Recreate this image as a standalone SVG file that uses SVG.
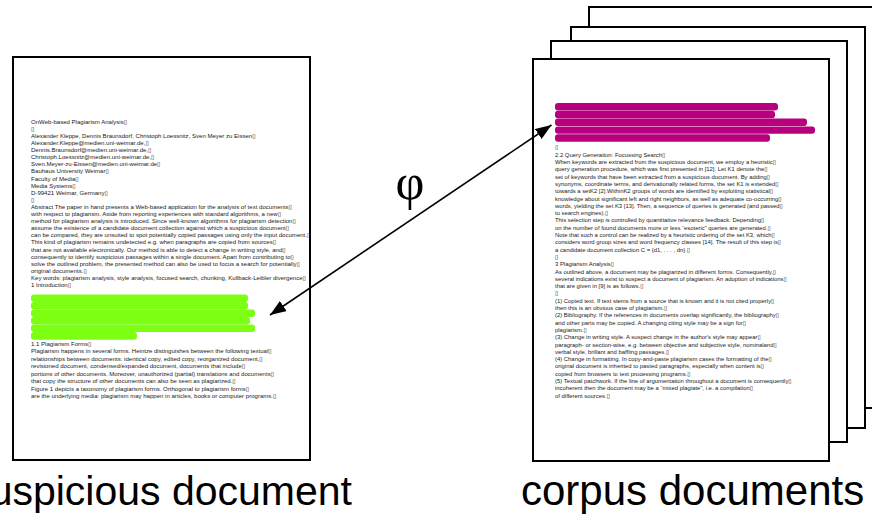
<svg xmlns="http://www.w3.org/2000/svg" width="872" height="514" viewBox="0 0 872 514">
<style>
.page{fill:#fff;stroke:#000;stroke-width:2}
.t{font-family:"Liberation Sans",Arial,"DejaVu Sans",sans-serif;font-size:6.05px;fill:#222}
.r .t{font-size:5.9px}
.hg{fill:#7cff12}
.hm{fill:#b8007e}
.lbl{font-family:"Liberation Sans",Arial,sans-serif;font-size:41px;fill:#000}
.phi{font-family:"Liberation Serif","Times New Roman",serif;font-size:50px;fill:#000}
.conn{stroke:#000;stroke-width:1.6;fill:none}
</style>
<defs>
<marker id="ah" markerUnits="userSpaceOnUse" markerWidth="18" markerHeight="12" refX="16" refY="6" orient="auto-start-reverse">
<path d="M0,0 L16,6 L0,12 Z" fill="#000"/>
</marker>
</defs>
<rect width="872" height="514" fill="#fff"/>

<g id="corpus-documents">
<rect id="corpus-page-4" class="page" x="589" y="7" width="296" height="401"/>
<rect id="corpus-page-3" class="page" x="571" y="27" width="294" height="401"/>
<rect id="corpus-page-2" class="page" x="551" y="41" width="296" height="401"/>
<g id="corpus-page-1" class="r">
<rect class="page" x="533" y="59" width="296" height="402"/>
<rect class="hm" x="555" y="103" width="223" height="7.4" rx="3"/>
<rect class="hm" x="555" y="110.8" width="220" height="7.4" rx="3"/>
<rect class="hm" x="555" y="118.6" width="252" height="7.4" rx="3"/>
<rect class="hm" x="555" y="126.4" width="260" height="7.4" rx="3"/>
<rect class="hm" x="555" y="134.2" width="215" height="7.6" rx="3"/>
<text class="t" x="555" y="149.4">▯</text>
<text class="t" x="555" y="156.7">2.2 Query Generation: Focussing Search▯</text>
<text class="t" x="555" y="164.0">When keywords are extracted from the suspicious document, we employ a heuristic▯</text>
<text class="t" x="555" y="171.3">query generation procedure, which was first presented in [12]. Let K1 denote the▯</text>
<text class="t" x="555" y="178.6">set of keywords that have been extracted from a suspicious document. By adding▯</text>
<text class="t" x="555" y="185.9">synonyms, coordinate terms, and derivationally related forms, the set K1 is extended▯</text>
<text class="t" x="555" y="193.2">towards a setK2 [2].WithinK2 groups of words are identified by exploiting statistical▯</text>
<text class="t" x="555" y="200.5">knowledge about significant left and right neighbors, as well as adequate co-occurring▯</text>
<text class="t" x="555" y="207.8">words, yielding the set K3 [13]. Then, a sequence of queries is generated (and passed▯</text>
<text class="t" x="555" y="215.1">to search engines).▯</text>
<text class="t" x="555" y="222.4">This selection step is controlled by quantitative relevance feedback: Depending▯</text>
<text class="t" x="555" y="229.7">on the number of found documents more or less “esoteric” queries are generated.▯</text>
<text class="t" x="555" y="237.0">Note that such a control can be realized by a heuristic ordering of the set K3, which▯</text>
<text class="t" x="555" y="244.3">considers word group sizes and word frequency classes [14]. The result of this step is▯</text>
<text class="t" x="555" y="251.6">a candidate document collection C = {d1, . . . , dn}.▯</text>
<text class="t" x="555" y="258.9">▯</text>
<text class="t" x="555" y="266.2">3 Plagiarism Analysis▯</text>
<text class="t" x="555" y="273.5">As outlined above, a document may be plagiarized in different forms. Consequently,▯</text>
<text class="t" x="555" y="280.8">several indications exist to suspect a document of plagiarism. An adoption of indications▯</text>
<text class="t" x="555" y="288.1">that are given in [9] is as follows.▯</text>
<text class="t" x="555" y="295.4">▯</text>
<text class="t" x="555" y="302.7">(1) Copied text. If text stems from a source that is known and it is not cited properly▯</text>
<text class="t" x="555" y="310.0">then this is an obvious case of plagiarism.▯</text>
<text class="t" x="555" y="317.3">(2) Bibliography. If the references in documents overlap significantly, the bibliography▯</text>
<text class="t" x="555" y="324.6">and other parts may be copied. A changing citing style may be a sign for▯</text>
<text class="t" x="555" y="331.9">plagiarism.▯</text>
<text class="t" x="555" y="339.2">(3) Change in writing style. A suspect change in the author's style may appear▯</text>
<text class="t" x="555" y="346.5">paragraph- or section-wise, e.g. between objective and subjective style, nominaland▯</text>
<text class="t" x="555" y="353.8">verbal style, brillant and baffling passages.▯</text>
<text class="t" x="555" y="361.1">(4) Change in formatting. In copy-and-paste plagiarism cases the formatting of the▯</text>
<text class="t" x="555" y="368.4">original document is inherited to pasted paragraphs, especially when content is▯</text>
<text class="t" x="555" y="375.7">copied from browsers to text processing programs.▯</text>
<text class="t" x="555" y="383.0">(5) Textual patchwork. If the line of argumentation throughout a document is consequently▯</text>
<text class="t" x="555" y="390.3">incoherent then the document may be a “mixed plagiate”, i.e. a compilation▯</text>
<text class="t" x="555" y="397.6">of different sources.▯</text>
</g>
<text class="lbl" x="521" y="505" style="font-size:42px">corpus documents</text>
</g>

<g id="suspicious-document">
<rect class="page" x="13" y="57" width="297" height="403"/>
<text class="t" x="31" y="123.7">OnWeb-based Plagiarism Analysis▯</text>
<text class="t" x="31" y="130.8">▯</text>
<text class="t" x="31" y="137.9">Alexander Kleppe, Dennis Braunsdorf, Christoph Loessnitz, Sven Meyer zu Eissen▯</text>
<text class="t" x="31" y="145.0">Alexander.Kleppe@medien.uni-weimar.de,▯</text>
<text class="t" x="31" y="152.1">Dennis.Braunsdorf@medien.uni-weimar.de,▯</text>
<text class="t" x="31" y="159.2">Christoph.Loessnitz@medien.uni-weimar.de,▯</text>
<text class="t" x="31" y="166.3">Sven.Meyer-zu-Eissen@medien.uni-weimar.de▯</text>
<text class="t" x="31" y="173.4">Bauhaus University Weimar▯</text>
<text class="t" x="31" y="180.5">Faculty of Media▯</text>
<text class="t" x="31" y="187.6">Media Systems▯</text>
<text class="t" x="31" y="194.7">D-99421 Weimar, Germany▯</text>
<text class="t" x="31" y="201.8">▯</text>
<text class="t" x="31" y="208.9">Abstract The paper in hand presents a Web-based application for the analysis of text documents▯</text>
<text class="t" x="31" y="216.0">with respect to plagiarism. Aside from reporting experiences with standard algorithms, a new▯</text>
<text class="t" x="31" y="223.1">method for plagiarism analysis is introduced. Since well-known algorithms for plagiarism detection▯</text>
<text class="t" x="31" y="230.2">assume the existence of a candidate document collection against which a suspicious document▯</text>
<text class="t" x="31" y="237.3">can be compared, they are unsuited to spot potentially copied passages using only the input document.▯</text>
<text class="t" x="31" y="244.4">This kind of plagiarism remains undetected e.g. when paragraphs are copied from sources▯</text>
<text class="t" x="31" y="251.5">that are not available electronically. Our method is able to detect a change in writing style, and▯</text>
<text class="t" x="31" y="258.6">consequently to identify suspicious passages within a single document. Apart from contributing to▯</text>
<text class="t" x="31" y="265.7">solve the outlined problem, the presented method can also be used to focus a search for potentially▯</text>
<text class="t" x="31" y="272.8">original documents.▯</text>
<text class="t" x="31" y="279.9">Key words: plagiarism analysis, style analysis, focused search, chunking, Kullback-Leibler divergence▯</text>
<text class="t" x="31" y="287.0">1 Introduction▯</text>
<rect class="hg" x="31" y="294.5" width="217" height="7.6" rx="3"/>
<rect class="hg" x="31" y="302" width="217" height="7.6" rx="3"/>
<rect class="hg" x="31" y="309.5" width="224" height="7.6" rx="3"/>
<rect class="hg" x="31" y="317" width="219" height="7.6" rx="3"/>
<rect class="hg" x="31" y="324.5" width="224" height="7.6" rx="3"/>
<rect class="hg" x="31" y="332" width="106" height="7.8" rx="3"/>
<text class="t" x="31" y="345.5">1.1 Plagiarism Forms▯</text>
<text class="t" x="31" y="353.2">Plagiarism happens in several forms. Heintze distinguishes between the following textual▯</text>
<text class="t" x="31" y="360.7">relationships between documents: identical copy, edited copy, reorganized document,▯</text>
<text class="t" x="31" y="368.2">revisioned document, condensed/expanded document, documents that include▯</text>
<text class="t" x="31" y="375.7">portions of other documents. Moreover, unauthorized (partial) translations and documents▯</text>
<text class="t" x="31" y="383.2">that copy the structure of other documents can also be seen as plagiarized.▯</text>
<text class="t" x="31" y="390.7">Figure 1 depicts a taxonomy of plagiarism forms. Orthogonal to plagiarism forms▯</text>
<text class="t" x="31" y="398.2">are the underlying media: plagiarism may happen in articles, books or computer programs.▯</text>
<text class="lbl" x="352" y="505" text-anchor="end">suspicious document</text>
</g>

<g id="connectors">
<line class="conn" x1="270" y1="315" x2="551.5" y2="125" marker-start="url(#ah)" marker-end="url(#ah)"/>
<text class="phi" x="410" y="199" text-anchor="middle">φ</text>
</g>
</svg>
